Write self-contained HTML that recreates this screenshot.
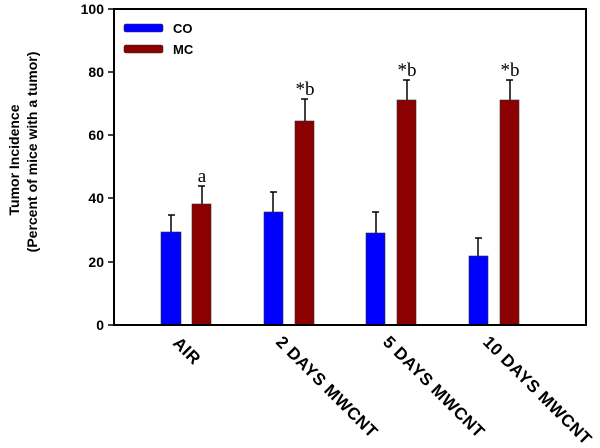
<!DOCTYPE html>
<html><head><style>body{margin:0;background:#fff}</style></head><body>
<svg width="600" height="443" xmlns="http://www.w3.org/2000/svg" font-family="Liberation Sans, sans-serif">
<rect width="600" height="443" fill="#fff"/>
<g stroke="#000" stroke-width="1.5">
<line x1="171" y1="232" x2="171" y2="215"/><line x1="168" y1="215" x2="175" y2="215"/>
<line x1="202" y1="204" x2="202" y2="186"/><line x1="198" y1="186" x2="205" y2="186"/>
<line x1="273" y1="212" x2="273" y2="192"/><line x1="270" y1="192" x2="277" y2="192"/>
<line x1="305" y1="121" x2="305" y2="99"/><line x1="301" y1="99" x2="308" y2="99"/>
<line x1="376" y1="233" x2="376" y2="212"/><line x1="372" y1="212" x2="379" y2="212"/>
<line x1="407" y1="100" x2="407" y2="80"/><line x1="403" y1="80" x2="410" y2="80"/>
<line x1="478" y1="256" x2="478" y2="238"/><line x1="475" y1="238" x2="482" y2="238"/>
<line x1="510" y1="100" x2="510" y2="80"/><line x1="506" y1="80" x2="513" y2="80"/>
</g>
<g stroke="#333" stroke-width="0.6">
<rect x="161" y="232" width="20" height="93" fill="#0000ff"/>
<rect x="192" y="204" width="19" height="121" fill="#8b0000"/>
<rect x="264" y="212" width="19" height="113" fill="#0000ff"/>
<rect x="295" y="121" width="19" height="204" fill="#8b0000"/>
<rect x="366" y="233" width="19" height="92" fill="#0000ff"/>
<rect x="397" y="100" width="19" height="225" fill="#8b0000"/>
<rect x="469" y="256" width="19" height="69" fill="#0000ff"/>
<rect x="500" y="100" width="19" height="225" fill="#8b0000"/>
</g>
<rect x="114" y="9" width="472" height="316" fill="none" stroke="#000" stroke-width="2"/>
<g stroke="#000" stroke-width="1.5">
<line x1="108" y1="9" x2="114" y2="9"/><line x1="108" y1="72" x2="114" y2="72"/>
<line x1="108" y1="135" x2="114" y2="135"/><line x1="108" y1="198" x2="114" y2="198"/>
<line x1="108" y1="262" x2="114" y2="262"/><line x1="108" y1="325" x2="114" y2="325"/>
</g>
<g font-size="14" font-weight="bold" text-anchor="end">
<text x="104" y="14">100</text><text x="104" y="77">80</text><text x="104" y="140">60</text>
<text x="104" y="203">40</text><text x="104" y="267">20</text><text x="104" y="330">0</text>
</g>
<rect x="124" y="24" width="39" height="8" rx="2" fill="#0000ff" stroke="#333" stroke-width="0.6"/>
<rect x="124" y="45" width="39" height="8" rx="2" fill="#8b0000" stroke="#333" stroke-width="0.6"/>
<text x="173" y="33" font-size="13" font-weight="bold">CO</text>
<text x="173" y="54" font-size="13" font-weight="bold">MC</text>
<g font-family="Liberation Serif, serif" font-size="19" text-anchor="middle">
<text x="202" y="182">a</text>
<text x="305" y="95">*b</text>
<text x="407" y="76">*b</text>
<text x="510" y="76">*b</text>
</g>
<g font-size="17" font-weight="bold" letter-spacing="0.5">
<text transform="translate(172,344) rotate(45)">AIR</text>
<text transform="translate(275,343) rotate(45)">2 DAYS MWCNT</text>
<text transform="translate(382,343) rotate(45)">5 DAYS MWCNT</text>
<text transform="translate(482,343) rotate(45)">10 DAYS MWCNT</text>
</g>
<g font-size="14" font-weight="bold" text-anchor="middle" transform="rotate(-90)">
<text x="-160" y="19">Tumor Incidence</text>
<text x="-152" y="37">(Percent of mice with a tumor)</text>
</g>
</svg>
</body></html>
